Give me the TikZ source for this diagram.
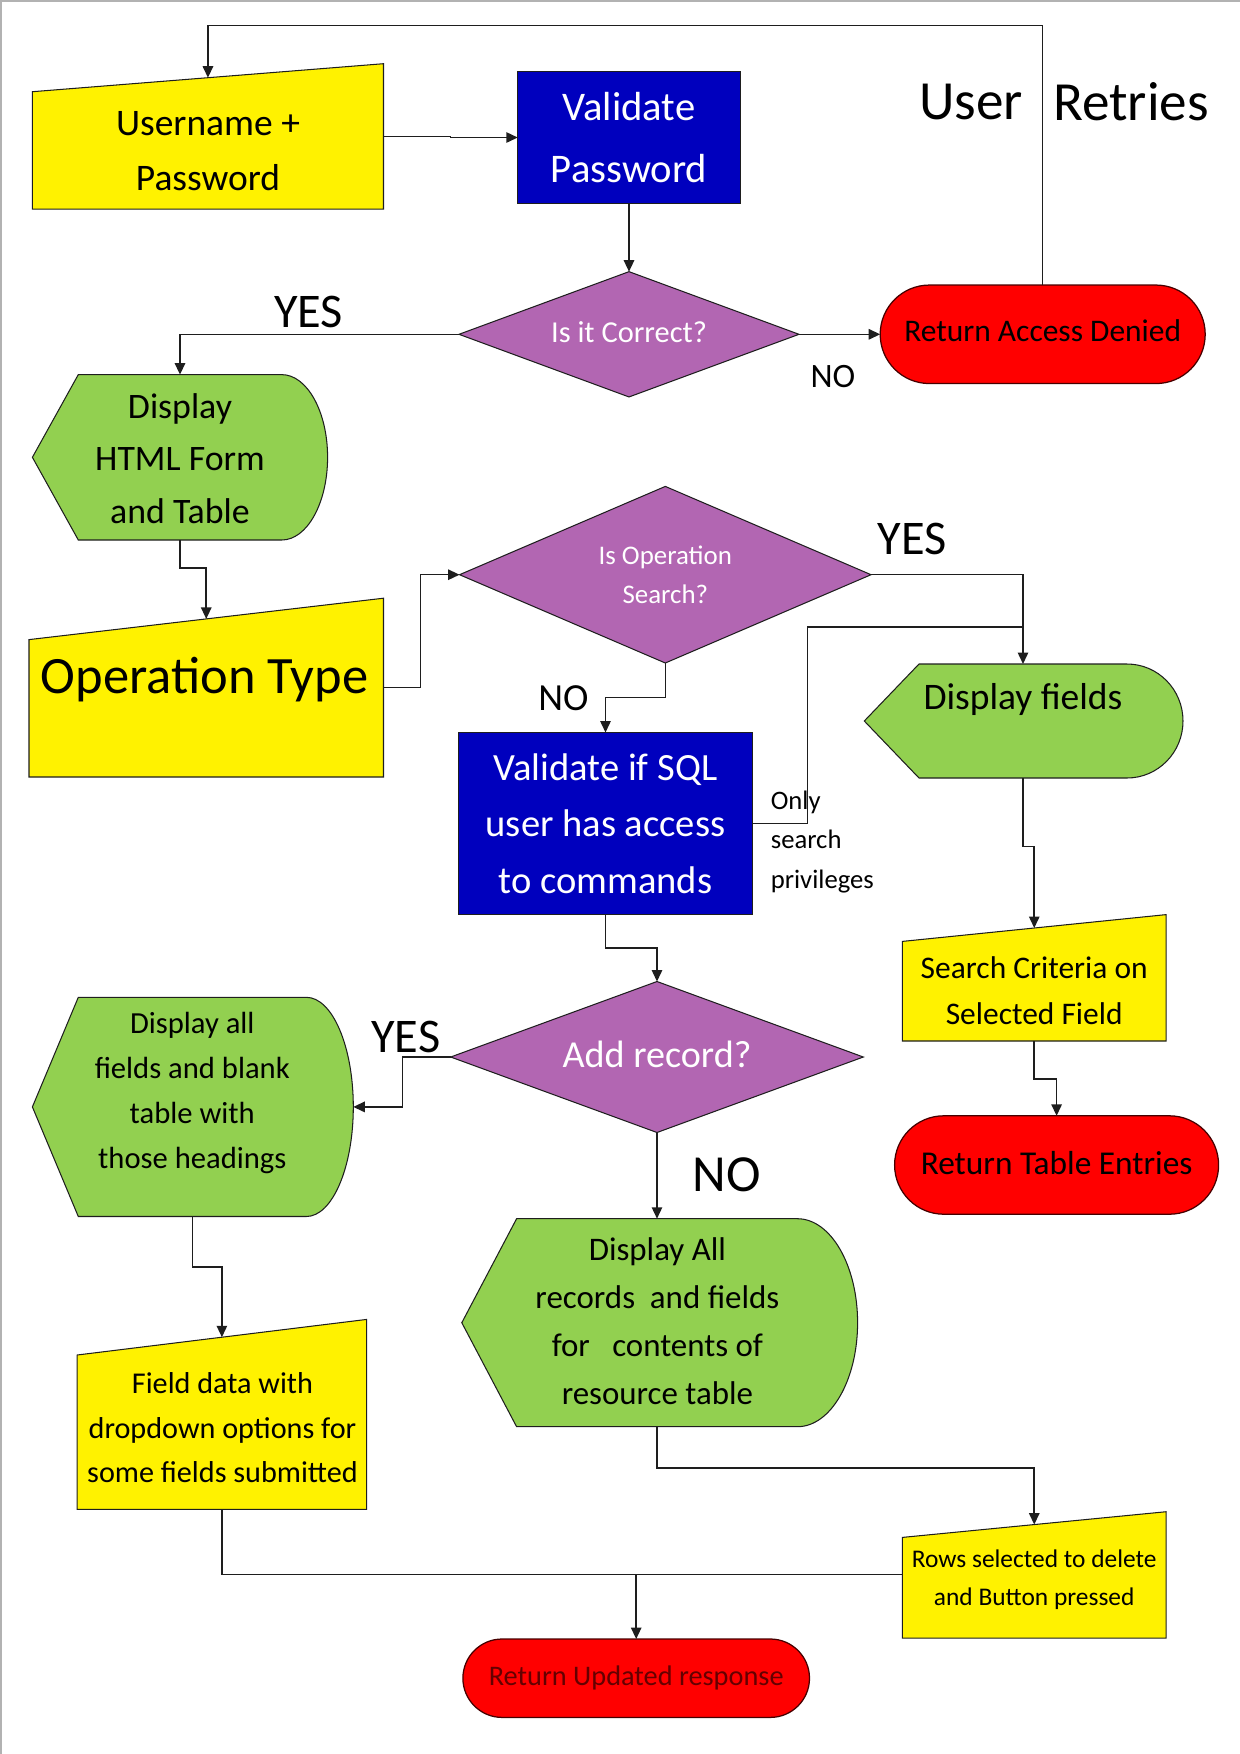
\documentclass[tikz,border=0pt]{standalone}
\usepackage{fontspec}
\setmainfont{Carlito}
\usetikzlibrary{shapes.geometric,shapes.misc,arrows.meta,calc}
\definecolor{dblue}{RGB}{0,0,190}
\definecolor{purp}{RGB}{178,102,178}
\definecolor{grn}{RGB}{146,208,80}
\definecolor{dred}{RGB}{100,0,0}
\definecolor{lnc}{RGB}{30,30,30}
\newcommand\fsz[2]{\fontsize{#1}{#2}\selectfont}
% manual input shape: name, L, R, yTopLeft, yTopRight, yBottom
\newcommand\maninp[6]{%
  \path[yelbox] (#2,#6) -- (#2,#4) -- (#3,#5) -- (#3,#6) -- cycle;
  \coordinate (#1-t) at ({(#2+#3)/2},{(#4+#5)/2});
  \coordinate (#1-b) at ({(#2+#3)/2},#6);
  \coordinate (#1-r) at (#3,{(#5+#6)/2});
  \coordinate (#1-l) at (#2,{(#4+#6)/2});
}
% display shape: name, xLeftPoint, xTopLeft, xCurveStart, xRight, yTop, yBottom
\newcommand\dispshp[7]{%
  \pgfmathsetmacro\dsY{(#6+#7)/2}%
  \pgfmathsetmacro\dsA{#4+0.5523*(#5-#4)}%
  \pgfmathsetmacro\dsB{\dsY-0.5523*(\dsY-#6)}%
  \pgfmathsetmacro\dsC{\dsY+0.5523*(\dsY-#6)}%
  \path[grnbox] (#2,\dsY) -- (#3,#6) -- (#4,#6) .. controls (\dsA,#6) and (#5,\dsB) .. (#5,\dsY) .. controls (#5,\dsC) and (\dsA,#7) .. (#4,#7) -- (#3,#7) -- cycle;
  \coordinate (#1-t) at ({(#3+#4)/2},#6);
  \coordinate (#1-b) at ({(#3+#4)/2},#7);
  \coordinate (#1-r) at (#5,\dsY);
}
\begin{document}
\begin{tikzpicture}[x=0.48pt,y=-0.48pt,
  ln/.style={draw=lnc,line width=0.5pt},
  conn/.style={draw=lnc,line width=0.75pt},
  arr/.style={conn,-{Triangle[length=5.5pt,width=5pt]}},
  yelbox/.style={fill=yellow,ln},
  grnbox/.style={fill=grn,ln},
  bluebox/.style={rectangle,fill=dblue,ln,text=white,align=center,inner sep=0pt,outer sep=0pt},
  diabox/.style={diamond,fill=purp,ln,text=white,align=center,inner sep=0pt,outer sep=0pt},
  endbox/.style={rounded rectangle,fill=red,draw={rgb,255:red,70;green,0;blue,0},line width=0.6pt,align=center,inner sep=0pt,outer sep=0pt},
  txt/.style={align=center,inner sep=0pt},
  lbl/.style={inner sep=0pt}]
\useasboundingbox (0,0) rectangle (1240,1754);
\draw[gray!60,line width=1pt] (1,1754) -- (1,1) -- (1240,1);

% ---- process / decision / terminal nodes
\node[bluebox,minimum width=222.5*0.48pt,minimum height=132*0.48pt,font=\fsz{19.5}{29.8}] (valp) at (629,137.5) {Validate\\Password};
\node[diabox,aspect=2.71,minimum width=340*0.48pt,minimum height=125.3*0.48pt,font=\fsz{14.6}{18}] (corr) at (629,334.3) {\raisebox{2.5pt}{Is it Correct?}};
\node[endbox,minimum width=325*0.48pt,minimum height=98.5*0.48pt,font=\fsz{15.1}{18}] (rad) at (1042.7,334.3) {\raisebox{4pt}{Return Access Denied}};
\node[diabox,aspect=2.33,minimum width=411.5*0.48pt,minimum height=176.6*0.48pt,font=\fsz{12.9}{18.8}] (srch) at (665.3,574.7) {Is Operation\\Search?};
\node[bluebox,minimum width=294*0.48pt,minimum height=182*0.48pt,font=\fsz{18.5}{27.1}] (sql) at (605.5,823.5) {Validate if SQL\\user has access\\to commands};
\node[diabox,aspect=2.73,minimum width=412.6*0.48pt,minimum height=151*0.48pt,font=\fsz{18.3}{22}] (add) at (657,1057) {\raisebox{2.2pt}{Add record?}};
\node[endbox,minimum width=324*0.48pt,minimum height=98.4*0.48pt,font=\fsz{16}{19}] (rte) at (1056.6,1165) {\raisebox{2pt}{Return Table Entries}};
\node[endbox,minimum width=346.6*0.48pt,minimum height=78.4*0.48pt,font=\fsz{13.6}{16},text=dred] (rup) at (636.2,1678.2) {Return Updated response};

% ---- manual input shapes
\maninp{user}{32.4}{383.5}{91.7}{63.7}{209.1}
\node[txt,font=\fsz{18}{26.4}] (usertxt) at (208,151.5) {Username +\\Password};
\maninp{op}{29}{383.5}{639.6}{598.2}{777}
\node[txt,font=\fsz{25.2}{30}] (optxt) at (204.6,680) {Operation Type};
\maninp{sc}{902.3}{1166.2}{941.4}{914.6}{1041}
\node[txt,font=\fsz{15.1}{22}] (sctxt) at (1034.2,991) {Search Criteria on\\Selected Field};
\maninp{fd}{77.1}{366.7}{1355}{1319.4}{1509.4}
\node[txt,font=\fsz{14.5}{21.5}] (fdtxt) at (222.5,1427.8) {Field data with\\dropdown options for\\some fields submitted};
\maninp{rows}{902.3}{1166.2}{1537.4}{1511.7}{1638}
\node[txt,font=\fsz{12.2}{18.3}] (rowstxt) at (1034.2,1580) {Rows selected to delete\\and Button pressed};

% ---- display shapes
\dispshp{dh}{32.4}{78.3}{281.7}{327.6}{374.6}{540}
\node[txt,font=\fsz{17.2}{25.2}] (dhtxt) at (180,458.4) {Display\\HTML Form\\and Table};
\dispshp{df}{864.3}{919}{1127}{1183}{664}{778}
\node[txt,font=\fsz{18}{22}] (dftxt) at (1023,699) {Display fields};
\dispshp{da}{32.4}{78.3}{306.3}{353.3}{997.3}{1216.5}
\node[txt,font=\fsz{14.7}{21.6}] (datxt) at (192.3,1093) {Display all\\fields and blank\\table with\\those headings};
\dispshp{dr}{461.8}{516.6}{797.4}{857.6}{1218.7}{1426.7}
\node[txt,font=\fsz{15.8}{23}] (drtxt) at (657.4,1321) {Display All\\records\ \ and fields\\for\ \ \ contents of\\resource table};

% ---- labels
\node[lbl,font=\fsz{26.5}{30}] (userlbl) at (971,101.7) {User};
\node[lbl,font=\fsz{26.5}{30}] (retrieslbl) at (1131,101.7) {Retries};
\node[lbl,font=\fsz{23.2}{28}] (yes1) at (308.6,312) {YES};
\node[lbl,font=\fsz{16.4}{20}] (no1) at (833,376.8) {NO};
\node[lbl,font=\fsz{23.2}{28}] (yes2) at (912.4,538.9) {YES};
\node[lbl,font=\fsz{18.4}{22}] (no2) at (563.5,697.7) {NO};
\node[lbl,font=\fsz{23.2}{28}] (yes3) at (405.9,1036.5) {YES};
\node[lbl,font=\fsz{25}{30}] (no3) at (726.8,1175) {NO};
\node[lbl,font=\fsz{12.8}{18.8},align=left,anchor=west] (priv) at (770.4,842) {Only\\search\\privileges};

% ---- connectors
\coordinate (ytop) at (0,25.7);
\coordinate (y627) at (0,627.2);
\coordinate (y1574) at (0,1574.3);
\coordinate (jn1) at (df-t |- y627);
\coordinate (jn2) at (rup.north |- y1574);
\draw[arr] (rad.north) -- (rad.north |- ytop) -| (user-t);
\draw[arr] (user-r) -- ++(67,0) |- (valp.west);
\draw[arr] (valp.south) -- (corr.north);
\draw[arr] (corr.west) -| (dh-t);
\draw[arr] (corr.east) -- (rad.west);
\draw[arr] (dh-b) -- ++(0,28) -| (op-t);
\draw[arr] (op-r) -- ++(37,0) |- (srch.west);
\draw[arr] (srch.east) -| (df-t);
\draw[conn] (sql.east) -- ++(54.8,0) |- (jn1);
\draw[arr] (srch.south) -- ++(0,34.7) -| (sql.north);
\draw[arr] (df-b) -- ++(0,68.4) -| (sc-t);
\draw[arr] (sc-b) -- ++(0,38) -| (rte.north);
\draw[arr] (sql.south) -- ++(0,33.4) -| (add.north);
\draw[arr] (add.west) -- ++(-48,0) |- (da-r);
\draw[arr] (add.south) -- (dr-t);
\draw[arr] (da-b) -- ++(0,50.3) -| (fd-t);
\draw[arr] (dr-b) -- ++(0,41.3) -| (rows-t);
\draw[conn] (fd-b) |- (jn2);
\draw[conn] (rows-l |- jn2) -- (jn2);
\draw[arr] (jn2) -- (rup.north);
\end{tikzpicture}
\end{document}
